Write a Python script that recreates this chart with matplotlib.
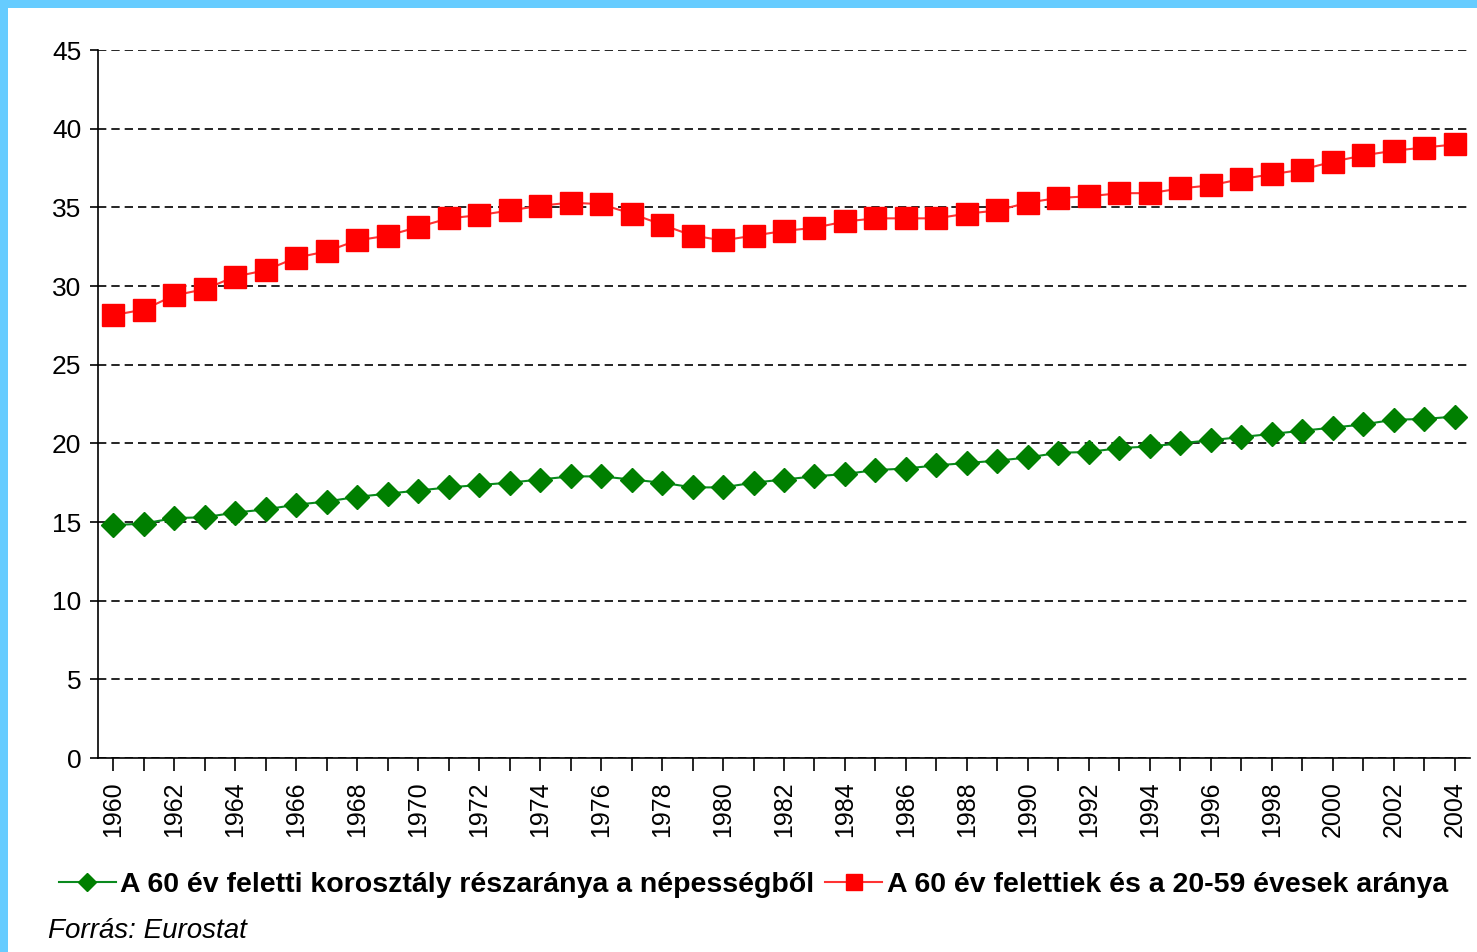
import matplotlib.pyplot as plt
from matplotlib.patches import Rectangle

plt.rcParams['font.family'] = ['Liberation Sans', 'DejaVu Sans']

years = list(range(1960, 2005))

# A 60 év feletti korosztály részaránya a népességből
share_60 = [14.8, 14.9, 15.25, 15.3, 15.6, 15.8, 16.1, 16.3, 16.6, 16.8,
            17.0, 17.2, 17.35, 17.5, 17.7, 17.9, 17.9, 17.7, 17.5, 17.2,
            17.2, 17.5, 17.7, 17.9, 18.05, 18.3, 18.4, 18.6, 18.75, 18.9,
            19.1, 19.4, 19.45, 19.7, 19.8, 20.0, 20.2, 20.4, 20.6, 20.8,
            21.0, 21.2, 21.5, 21.55, 21.7]

# A 60 év felettiek és a 20-59 évesek aránya
ratio_60 = [28.15, 28.5, 29.4, 29.8, 30.6, 31.0, 31.8, 32.2, 32.9, 33.2,
            33.75, 34.3, 34.5, 34.8, 35.1, 35.3, 35.2, 34.6, 33.9, 33.2,
            32.9, 33.2, 33.5, 33.7, 34.1, 34.3, 34.3, 34.3, 34.6, 34.8,
            35.3, 35.6, 35.7, 35.9, 35.9, 36.2, 36.4, 36.8, 37.1, 37.4,
            37.9, 38.3, 38.6, 38.8, 39.0]

label_green = 'A 60 év feletti korosztály részaránya a népességből'
label_red = 'A 60 év felettiek és a 20-59 évesek aránya'

fig = plt.figure(figsize=(14.77, 9.52), dpi=100, facecolor='white')
# light blue frame on the top and left edge
fig.patches.append(Rectangle((0, 1 - 8 / 952), 1, 8 / 952, transform=fig.transFigure,
                             facecolor='#66ccff', edgecolor='none'))
fig.patches.append(Rectangle((0, 0), 8 / 1477, 1, transform=fig.transFigure,
                             facecolor='#66ccff', edgecolor='none'))

ax = fig.add_axes([98 / 1477, 1 - 758 / 952, (1470 - 98) / 1477, (758 - 50) / 952])
ax.set_facecolor('white')

ax.plot(years, share_60, color='#0a8a1e', lw=1.5, marker='D', markersize=12,
        markerfacecolor='#007f00', markeredgecolor='#007f00', label=label_green, zorder=3)
ax.plot(years, ratio_60, color='#ff3333', lw=1.5, marker='s', markersize=16,
        markerfacecolor='#ff0000', markeredgecolor='#ff0000', label=label_red, zorder=3)

ax.set_xlim(1959.5, 2004.5)
ax.set_ylim(0, 45)
ax.set_yticks(range(0, 46, 5))
ax.set_xticks(years, minor=True)
ax.set_xticks(years[::2])
ax.set_xticklabels([str(y) for y in years[::2]], rotation=90)
ax.tick_params(axis='x', which='both', direction='out', length=9, width=1.2, labelsize=18, pad=8)
ax.tick_params(axis='y', direction='out', length=6, width=1.2, labelsize=19, pad=6)

ax.grid(axis='y', color='black', linestyle=(0, (5, 3)), linewidth=1.2)
ax.set_axisbelow(True)
for s in ['top', 'right']:
    ax.spines[s].set_visible(False)
ax.spines['left'].set_linewidth(1.2)
ax.spines['bottom'].set_linewidth(1.2)

fig.legend(loc='center', bbox_to_anchor=(0.51, 1 - 885 / 952), ncol=2, frameon=False,
           prop={'weight': 'bold', 'size': 20.5}, handlelength=2.0, handletextpad=0.15,
           columnspacing=0.4, markerscale=0.75)

fig.text(48 / 1477, 1 - 931 / 952, 'Forrás: Eurostat', style='italic', fontsize=20,
         va='center', ha='left')

fig.savefig('out.png', dpi=100, facecolor=fig.get_facecolor())
